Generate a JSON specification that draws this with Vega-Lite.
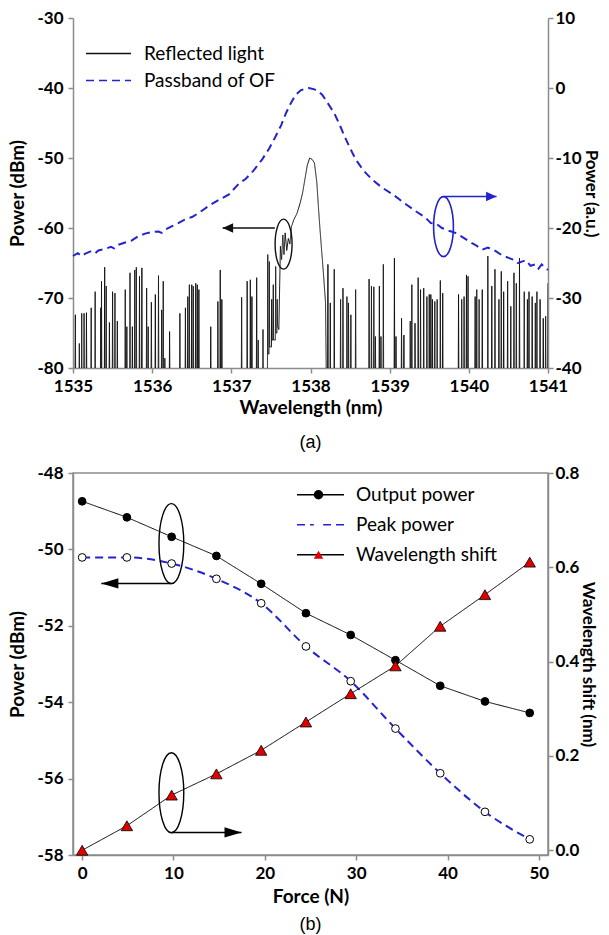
{
"$schema": "https://vega.github.io/schema/vega-lite/v6.json",
"padding": {"left": 8, "top": 9, "right": 6, "bottom": 2},
"spacing": 11,
"datasets": {
"spec": [
{"w":1535.026,"p":-82},{"w":1535.03,"p":-72.4},{"w":1535.034,"p":-82},
{"w":1535.076,"p":-82},{"w":1535.08,"p":-76.5},{"w":1535.084,"p":-82},
{"w":1535.106,"p":-82},{"w":1535.11,"p":-72.2},{"w":1535.114,"p":-82},
{"w":1535.136,"p":-82},{"w":1535.14,"p":-72.2},{"w":1535.144,"p":-82},
{"w":1535.166,"p":-82},{"w":1535.17,"p":-72.1},{"w":1535.174,"p":-82},
{"w":1535.226,"p":-82},{"w":1535.23,"p":-71.4},{"w":1535.234,"p":-82},
{"w":1535.276,"p":-82},{"w":1535.28,"p":-69.1},{"w":1535.284,"p":-82},
{"w":1535.346,"p":-82},{"w":1535.35,"p":-71.4},{"w":1535.354,"p":-82},
{"w":1535.356,"p":-82},{"w":1535.36,"p":-67.6},{"w":1535.364,"p":-82},
{"w":1535.396,"p":-82},{"w":1535.4,"p":-65.6},{"w":1535.404,"p":-82},
{"w":1535.416,"p":-82},{"w":1535.42,"p":-68.3},{"w":1535.424,"p":-82},
{"w":1535.456,"p":-82},{"w":1535.46,"p":-73.5},{"w":1535.464,"p":-82},
{"w":1535.496,"p":-82},{"w":1535.5,"p":-69.1},{"w":1535.504,"p":-82},
{"w":1535.526,"p":-82},{"w":1535.53,"p":-69.3},{"w":1535.534,"p":-82},
{"w":1535.556,"p":-82},{"w":1535.56,"p":-73.3},{"w":1535.564,"p":-82},
{"w":1535.656,"p":-82},{"w":1535.66,"p":-68.8},{"w":1535.664,"p":-82},
{"w":1535.676,"p":-82},{"w":1535.68,"p":-74.1},{"w":1535.684,"p":-82},
{"w":1535.716,"p":-82},{"w":1535.72,"p":-66.4},{"w":1535.724,"p":-82},
{"w":1535.746,"p":-82},{"w":1535.75,"p":-74.1},{"w":1535.754,"p":-82},
{"w":1535.776,"p":-82},{"w":1535.78,"p":-66},{"w":1535.784,"p":-82},
{"w":1535.796,"p":-82},{"w":1535.8,"p":-65.6},{"w":1535.804,"p":-82},
{"w":1535.836,"p":-82},{"w":1535.84,"p":-66.9},{"w":1535.844,"p":-82},
{"w":1535.866,"p":-82},{"w":1535.87,"p":-65.7},{"w":1535.874,"p":-82},
{"w":1535.926,"p":-82},{"w":1535.93,"p":-68.6},{"w":1535.934,"p":-82},
{"w":1535.946,"p":-82},{"w":1535.95,"p":-74.1},{"w":1535.954,"p":-82},
{"w":1535.986,"p":-82},{"w":1535.99,"p":-70.6},{"w":1535.994,"p":-82},
{"w":1536.036,"p":-82},{"w":1536.04,"p":-69.5},{"w":1536.044,"p":-82},
{"w":1536.076,"p":-82},{"w":1536.08,"p":-66.8},{"w":1536.084,"p":-82},
{"w":1536.116,"p":-82},{"w":1536.12,"p":-71.7},{"w":1536.124,"p":-82},
{"w":1536.136,"p":-82},{"w":1536.14,"p":-67.6},{"w":1536.144,"p":-82},
{"w":1536.156,"p":-82},{"w":1536.16,"p":-78.6},{"w":1536.164,"p":-82},
{"w":1536.216,"p":-82},{"w":1536.22,"p":-74.8},{"w":1536.224,"p":-82},
{"w":1536.346,"p":-82},{"w":1536.35,"p":-72.2},{"w":1536.354,"p":-82},
{"w":1536.416,"p":-82},{"w":1536.42,"p":-71.4},{"w":1536.424,"p":-82},
{"w":1536.446,"p":-82},{"w":1536.45,"p":-69.8},{"w":1536.454,"p":-82},
{"w":1536.466,"p":-82},{"w":1536.47,"p":-68.1},{"w":1536.474,"p":-82},
{"w":1536.496,"p":-82},{"w":1536.5,"p":-68.1},{"w":1536.504,"p":-82},
{"w":1536.516,"p":-82},{"w":1536.52,"p":-68.3},{"w":1536.524,"p":-82},
{"w":1536.546,"p":-82},{"w":1536.55,"p":-67.9},{"w":1536.554,"p":-82},
{"w":1536.566,"p":-82},{"w":1536.57,"p":-68.1},{"w":1536.574,"p":-82},
{"w":1536.586,"p":-82},{"w":1536.59,"p":-68.8},{"w":1536.594,"p":-82},
{"w":1536.736,"p":-82},{"w":1536.74,"p":-74.1},{"w":1536.744,"p":-82},
{"w":1536.826,"p":-82},{"w":1536.83,"p":-70.5},{"w":1536.834,"p":-82},
{"w":1536.856,"p":-82},{"w":1536.86,"p":-66},{"w":1536.864,"p":-82},
{"w":1536.876,"p":-82},{"w":1536.88,"p":-70.2},{"w":1536.884,"p":-82},
{"w":1537.126,"p":-82},{"w":1537.13,"p":-69.9},{"w":1537.134,"p":-82},
{"w":1537.196,"p":-82},{"w":1537.2,"p":-67.6},{"w":1537.204,"p":-82},
{"w":1537.236,"p":-82},{"w":1537.24,"p":-67.4},{"w":1537.244,"p":-82},
{"w":1537.256,"p":-82},{"w":1537.26,"p":-69.8},{"w":1537.264,"p":-82},
{"w":1537.316,"p":-82},{"w":1537.32,"p":-67.1},{"w":1537.324,"p":-82},
{"w":1537.336,"p":-82},{"w":1537.34,"p":-76},{"w":1537.344,"p":-82},
{"w":1537.396,"p":-82},{"w":1537.4,"p":-74.5},{"w":1537.404,"p":-82},
{"w":1537.456,"p":-82},{"w":1537.46,"p":-63.8},{"w":1537.464,"p":-78},
{"w":1537.476,"p":-78},{"w":1537.48,"p":-64.8},{"w":1537.484,"p":-77},
{"w":1537.506,"p":-77},{"w":1537.51,"p":-70.2},{"w":1537.514,"p":-76},
{"w":1537.526,"p":-76},{"w":1537.53,"p":-68.1},{"w":1537.534,"p":-76},
{"w":1537.556,"p":-76},{"w":1537.56,"p":-65.5},{"w":1537.564,"p":-75},
{"w":1537.576,"p":-75},{"w":1537.58,"p":-70.2},{"w":1537.584,"p":-74},
{"w":1537.6,"p":-74.5},{"w":1537.62,"p":-62.6},{"w":1537.635,"p":-64.5},{"w":1537.65,"p":-61},{"w":1537.665,"p":-63.8},{"w":1537.68,"p":-60.7},{"w":1537.7,"p":-63.2},{"w":1537.72,"p":-61.5},{"w":1537.74,"p":-62.3},{"w":1537.76,"p":-59.8},{"w":1537.79,"p":-58.8},{"w":1537.83,"p":-57.9},{"w":1537.87,"p":-56.4},{"w":1537.9,"p":-55},{"w":1537.93,"p":-53},{"w":1537.96,"p":-51},{"w":1537.99,"p":-50},{"w":1538.02,"p":-50.2},{"w":1538.05,"p":-50.7},{"w":1538.08,"p":-53.5},{"w":1538.1,"p":-57},{"w":1538.12,"p":-60.2},{"w":1538.16,"p":-66},{"w":1538.19,"p":-70.7},{"w":1538.2,"p":-82},
{"w":1538.216,"p":-82},{"w":1538.22,"p":-65.2},{"w":1538.224,"p":-82},
{"w":1538.246,"p":-82},{"w":1538.25,"p":-70.7},{"w":1538.254,"p":-82},
{"w":1538.296,"p":-82},{"w":1538.3,"p":-65.9},{"w":1538.304,"p":-82},
{"w":1538.376,"p":-82},{"w":1538.38,"p":-70.2},{"w":1538.384,"p":-82},
{"w":1538.406,"p":-82},{"w":1538.41,"p":-68.6},{"w":1538.414,"p":-82},
{"w":1538.456,"p":-82},{"w":1538.46,"p":-69.8},{"w":1538.464,"p":-82},
{"w":1538.476,"p":-82},{"w":1538.48,"p":-70.7},{"w":1538.484,"p":-82},
{"w":1538.506,"p":-82},{"w":1538.51,"p":-72.4},{"w":1538.514,"p":-82},
{"w":1538.566,"p":-82},{"w":1538.57,"p":-68.8},{"w":1538.574,"p":-82},
{"w":1538.736,"p":-82},{"w":1538.74,"p":-67.3},{"w":1538.744,"p":-82},
{"w":1538.766,"p":-82},{"w":1538.77,"p":-68.3},{"w":1538.774,"p":-82},
{"w":1538.796,"p":-82},{"w":1538.8,"p":-68.4},{"w":1538.804,"p":-82},
{"w":1538.816,"p":-82},{"w":1538.82,"p":-75.5},{"w":1538.824,"p":-82},
{"w":1538.866,"p":-82},{"w":1538.87,"p":-68.3},{"w":1538.874,"p":-82},
{"w":1538.886,"p":-82},{"w":1538.89,"p":-75.5},{"w":1538.894,"p":-82},
{"w":1538.916,"p":-82},{"w":1538.92,"p":-65.2},{"w":1538.924,"p":-82},
{"w":1539.056,"p":-82},{"w":1539.06,"p":-64.3},{"w":1539.064,"p":-82},
{"w":1539.076,"p":-82},{"w":1539.08,"p":-75.5},{"w":1539.084,"p":-82},
{"w":1539.146,"p":-82},{"w":1539.15,"p":-72.9},{"w":1539.154,"p":-82},
{"w":1539.176,"p":-82},{"w":1539.18,"p":-75.3},{"w":1539.184,"p":-82},
{"w":1539.256,"p":-82},{"w":1539.26,"p":-73.3},{"w":1539.264,"p":-82},
{"w":1539.276,"p":-82},{"w":1539.28,"p":-68.1},{"w":1539.284,"p":-82},
{"w":1539.316,"p":-82},{"w":1539.32,"p":-73.6},{"w":1539.324,"p":-82},
{"w":1539.356,"p":-82},{"w":1539.36,"p":-67.1},{"w":1539.364,"p":-82},
{"w":1539.386,"p":-82},{"w":1539.39,"p":-68.8},{"w":1539.394,"p":-82},
{"w":1539.426,"p":-82},{"w":1539.43,"p":-68.6},{"w":1539.434,"p":-82},
{"w":1539.466,"p":-82},{"w":1539.47,"p":-69.8},{"w":1539.474,"p":-82},
{"w":1539.496,"p":-82},{"w":1539.5,"p":-69.5},{"w":1539.504,"p":-82},
{"w":1539.516,"p":-82},{"w":1539.52,"p":-69.5},{"w":1539.524,"p":-82},
{"w":1539.536,"p":-82},{"w":1539.54,"p":-70.2},{"w":1539.544,"p":-82},
{"w":1539.566,"p":-82},{"w":1539.57,"p":-70.5},{"w":1539.574,"p":-82},
{"w":1539.596,"p":-82},{"w":1539.6,"p":-70.2},{"w":1539.604,"p":-82},
{"w":1539.636,"p":-82},{"w":1539.64,"p":-67.5},{"w":1539.644,"p":-82},
{"w":1539.666,"p":-82},{"w":1539.67,"p":-69.3},{"w":1539.674,"p":-82},
{"w":1539.866,"p":-82},{"w":1539.87,"p":-69.5},{"w":1539.874,"p":-82},
{"w":1539.906,"p":-82},{"w":1539.91,"p":-70.2},{"w":1539.914,"p":-82},
{"w":1539.936,"p":-82},{"w":1539.94,"p":-69.8},{"w":1539.944,"p":-82},
{"w":1539.966,"p":-82},{"w":1539.97,"p":-66.7},{"w":1539.974,"p":-82},
{"w":1539.986,"p":-82},{"w":1539.99,"p":-66.9},{"w":1539.994,"p":-82},
{"w":1540.076,"p":-82},{"w":1540.08,"p":-69.8},{"w":1540.084,"p":-82},
{"w":1540.096,"p":-82},{"w":1540.1,"p":-68.8},{"w":1540.104,"p":-82},
{"w":1540.126,"p":-82},{"w":1540.13,"p":-70.2},{"w":1540.134,"p":-82},
{"w":1540.166,"p":-82},{"w":1540.17,"p":-68.8},{"w":1540.174,"p":-82},
{"w":1540.236,"p":-82},{"w":1540.24,"p":-64},{"w":1540.244,"p":-82},
{"w":1540.286,"p":-82},{"w":1540.29,"p":-68.3},{"w":1540.294,"p":-82},
{"w":1540.326,"p":-82},{"w":1540.33,"p":-65.9},{"w":1540.334,"p":-82},
{"w":1540.376,"p":-82},{"w":1540.38,"p":-70.2},{"w":1540.384,"p":-82},
{"w":1540.406,"p":-82},{"w":1540.41,"p":-66.2},{"w":1540.414,"p":-82},
{"w":1540.436,"p":-82},{"w":1540.44,"p":-69.1},{"w":1540.444,"p":-82},
{"w":1540.486,"p":-82},{"w":1540.49,"p":-67.6},{"w":1540.494,"p":-82},
{"w":1540.526,"p":-82},{"w":1540.53,"p":-71.2},{"w":1540.534,"p":-82},
{"w":1540.566,"p":-82},{"w":1540.57,"p":-66.4},{"w":1540.574,"p":-82},
{"w":1540.596,"p":-82},{"w":1540.6,"p":-67.9},{"w":1540.604,"p":-82},
{"w":1540.636,"p":-82},{"w":1540.64,"p":-64.3},{"w":1540.644,"p":-82},
{"w":1540.696,"p":-82},{"w":1540.7,"p":-69.1},{"w":1540.704,"p":-82},
{"w":1540.736,"p":-82},{"w":1540.74,"p":-70.2},{"w":1540.744,"p":-82},
{"w":1540.756,"p":-82},{"w":1540.76,"p":-69.1},{"w":1540.764,"p":-82},
{"w":1540.796,"p":-82},{"w":1540.8,"p":-69.8},{"w":1540.804,"p":-82},
{"w":1540.836,"p":-82},{"w":1540.84,"p":-70.7},{"w":1540.844,"p":-82},
{"w":1540.856,"p":-82},{"w":1540.86,"p":-69.1},{"w":1540.864,"p":-82},
{"w":1540.896,"p":-82},{"w":1540.9,"p":-70.2},{"w":1540.904,"p":-82},
{"w":1540.936,"p":-82},{"w":1540.94,"p":-72.9},{"w":1540.944,"p":-82},
{"w":1540.966,"p":-82},{"w":1540.97,"p":-72.6},{"w":1540.974,"p":-82},
{"w":1540.996,"p":-82},{"w":1541,"p":-67.9}
],
"pass": [
{"w":1535,"r":-24},{"w":1535.06,"r":-23.6},{"w":1535.11,"r":-24},{"w":1535.15,"r":-23.7},{"w":1535.23,"r":-23.3},{"w":1535.28,"r":-23.6},{"w":1535.32,"r":-23.2},{"w":1535.4,"r":-23},{"w":1535.48,"r":-22.7},{"w":1535.52,"r":-22.9},{"w":1535.57,"r":-22.4},{"w":1535.65,"r":-22.1},{"w":1535.74,"r":-21.8},{"w":1535.82,"r":-21.2},{"w":1535.91,"r":-20.8},{"w":1535.99,"r":-20.6},{"w":1536.08,"r":-20.5},{"w":1536.12,"r":-20.7},{"w":1536.17,"r":-20.2},{"w":1536.24,"r":-19.8},{"w":1536.33,"r":-19.3},{"w":1536.41,"r":-18.8},{"w":1536.51,"r":-18.4},{"w":1536.62,"r":-17.6},{"w":1536.72,"r":-16.8},{"w":1536.84,"r":-16},{"w":1536.97,"r":-15.2},{"w":1537.1,"r":-13.6},{"w":1537.18,"r":-13},{"w":1537.28,"r":-11.8},{"w":1537.39,"r":-10.2},{"w":1537.48,"r":-8.6},{"w":1537.56,"r":-6.9},{"w":1537.63,"r":-5.3},{"w":1537.69,"r":-3.6},{"w":1537.75,"r":-2.2},{"w":1537.81,"r":-1},{"w":1537.88,"r":-0.3},{"w":1537.98,"r":0},{"w":1538.05,"r":-0.2},{"w":1538.1,"r":-0.5},{"w":1538.15,"r":-1},{"w":1538.22,"r":-2.2},{"w":1538.3,"r":-3.6},{"w":1538.37,"r":-5.3},{"w":1538.43,"r":-6.9},{"w":1538.5,"r":-8.6},{"w":1538.57,"r":-10.2},{"w":1538.67,"r":-11.8},{"w":1538.78,"r":-13.1},{"w":1538.9,"r":-14.2},{"w":1539.04,"r":-15.2},{"w":1539.18,"r":-16.4},{"w":1539.33,"r":-17.6},{"w":1539.45,"r":-18.5},{"w":1539.52,"r":-19.3},{"w":1539.59,"r":-19.4},{"w":1539.66,"r":-20},{"w":1539.75,"r":-20.4},{"w":1539.83,"r":-20.7},{"w":1539.92,"r":-21.3},{"w":1540,"r":-21.9},{"w":1540.08,"r":-22.4},{"w":1540.17,"r":-23.1},{"w":1540.24,"r":-22.8},{"w":1540.34,"r":-23.3},{"w":1540.42,"r":-23.9},{"w":1540.51,"r":-24.3},{"w":1540.58,"r":-24.6},{"w":1540.62,"r":-25},{"w":1540.67,"r":-24.8},{"w":1540.72,"r":-24.6},{"w":1540.78,"r":-25.4},{"w":1540.84,"r":-25.2},{"w":1540.88,"r":-25.8},{"w":1540.92,"r":-25.2},{"w":1540.97,"r":-25.7},{"w":1541,"r":-26}
],
"power": [
{"force":0,"series":"Output power","v":-48.74},{"force":4.9,"series":"Output power","v":-49.16},{"force":9.8,"series":"Output power","v":-49.67},{"force":14.7,"series":"Output power","v":-50.17},{"force":19.6,"series":"Output power","v":-50.9},{"force":24.5,"series":"Output power","v":-51.67},{"force":29.4,"series":"Output power","v":-52.24},{"force":34.3,"series":"Output power","v":-52.9},{"force":39.2,"series":"Output power","v":-53.57},{"force":44.1,"series":"Output power","v":-53.98},{"force":49,"series":"Output power","v":-54.28},
{"force":0,"series":"Peak power","v":-50.21},{"force":4.9,"series":"Peak power","v":-50.21},{"force":9.8,"series":"Peak power","v":-50.37},{"force":14.7,"series":"Peak power","v":-50.77},{"force":19.6,"series":"Peak power","v":-51.41},{"force":24.5,"series":"Peak power","v":-52.54},{"force":29.4,"series":"Peak power","v":-53.45},{"force":34.3,"series":"Peak power","v":-54.69},{"force":39.2,"series":"Peak power","v":-55.86},{"force":44.1,"series":"Peak power","v":-56.87},{"force":49,"series":"Peak power","v":-57.59}
],
"shift": [
{"force":0,"series":"Wavelength shift","s":0},{"force":4.9,"series":"Wavelength shift","s":0.052},{"force":9.8,"series":"Wavelength shift","s":0.117},{"force":14.7,"series":"Wavelength shift","s":0.162},{"force":19.6,"series":"Wavelength shift","s":0.212},{"force":24.5,"series":"Wavelength shift","s":0.272},{"force":29.4,"series":"Wavelength shift","s":0.332},{"force":34.3,"series":"Wavelength shift","s":0.391},{"force":39.2,"series":"Wavelength shift","s":0.475},{"force":44.1,"series":"Wavelength shift","s":0.542},{"force":49,"series":"Wavelength shift","s":0.611}
]
},
"vconcat": [
{
"width": 475, "height": 350,
"view": {"stroke": null},
"title": {"text": "(a)", "orient": "bottom", "font": "Liberation Sans", "fontSize": 18, "fontWeight": "normal", "color": "#000", "offset": 17},
"layer": [
{"layer": [
{
"data": {"name": "spec"},
"mark": {"type": "line", "strokeWidth": 1, "clip": true},
"encoding": {
"x": {"field": "w", "type": "quantitative", "scale": {"domain": [1535, 1541], "nice": false}, "axis": {"title": "Wavelength (nm)", "values": [1535,1536,1537,1538,1539,1540,1541], "format": "d", "titlePadding": 4}},
"y": {"field": "p", "type": "quantitative", "scale": {"domain": [-80, -30], "nice": false}, "axis": {"orient": "left", "title": "Power (dBm)", "values": [-80,-70,-60,-50,-40,-30], "titlePadding": 9}},
"color": {"datum": "Reflected light", "type": "nominal", "scale": {"domain": ["Reflected light", "Passband of OF"], "range": ["#111111", "#2323cf"]}, "legend": {"title": null, "orient": "none", "legendX": 12, "legendY": 22, "symbolType": "stroke", "symbolSize": 2025, "symbolStrokeWidth": 1.5, "clipHeight": 27, "rowPadding": 0, "labelOffset": 12, "labelFontSize": 19}},
"strokeDash": {"datum": "Reflected light", "type": "nominal", "scale": {"domain": ["Reflected light", "Passband of OF"], "range": [[1, 0], [8, 5]]}, "legend": {"title": null, "orient": "none", "legendX": 12, "legendY": 22, "symbolType": "stroke", "symbolSize": 2025, "symbolStrokeWidth": 1.5, "clipHeight": 27, "rowPadding": 0, "labelOffset": 12, "labelFontSize": 19}}
}
},
{
"data": {"values": [{"w": 1537.55, "w2": 1536.89, "p": -60}]},
"mark": {"type": "rule", "color": "#111111", "strokeWidth": 1.5},
"encoding": {"x": {"field": "w", "type": "quantitative"}, "x2": {"field": "w2"}, "y": {"field": "p", "type": "quantitative"}}
},
{
"data": {"values": [{"w": 1536.89, "p": -60}]},
"mark": {"type": "point", "shape": "M0,0L2,-0.9L2,0.9Z", "size": 110, "filled": true, "color": "#111111", "opacity": 1},
"encoding": {"x": {"field": "w", "type": "quantitative"}, "y": {"field": "p", "type": "quantitative"}}
},
{
"data": {"values": [{"w": 1537.66, "p": -62.3}]},
"mark": {"type": "point", "shape": "M0,-1A0.34,1 0 1,1 0,1A0.34,1 0 1,1 0,-1", "size": 2500, "filled": false, "color": "#111111", "strokeWidth": 1.4, "opacity": 1},
"encoding": {"x": {"field": "w", "type": "quantitative"}, "y": {"field": "p", "type": "quantitative"}}
},
{
"data": {"values": [{"w": 1539.68, "w2": 1540.35, "p": -55.5}]},
"mark": {"type": "rule", "color": "#2323cf", "strokeWidth": 1.5},
"encoding": {"x": {"field": "w", "type": "quantitative"}, "x2": {"field": "w2"}, "y": {"field": "p", "type": "quantitative"}}
},
{
"data": {"values": [{"w": 1540.35, "p": -55.5}]},
"mark": {"type": "point", "shape": "M0,0L-2,-0.9L-2,0.9Z", "size": 110, "filled": true, "color": "#2323cf", "opacity": 1},
"encoding": {"x": {"field": "w", "type": "quantitative"}, "y": {"field": "p", "type": "quantitative"}}
},
{
"data": {"values": [{"w": 1539.68, "p": -59.8}]},
"mark": {"type": "point", "shape": "M0,-1A0.33,1 0 1,1 0,1A0.33,1 0 1,1 0,-1", "size": 3600, "filled": false, "color": "#2323cf", "strokeWidth": 1.6, "opacity": 1},
"encoding": {"x": {"field": "w", "type": "quantitative"}, "y": {"field": "p", "type": "quantitative"}}
}
]},
{
"data": {"name": "pass"},
"mark": {"type": "line", "strokeWidth": 2},
"encoding": {
"x": {"field": "w", "type": "quantitative", "scale": {"domain": [1535, 1541], "nice": false}},
"y": {"field": "r", "type": "quantitative", "scale": {"domain": [-40, 10], "nice": false}, "axis": {"orient": "right", "title": "Power (a.u.)", "values": [-40,-30,-20,-10,0,10], "labelPadding": 2, "titlePadding": 0, "titleFontSize": 17}},
"color": {"datum": "Passband of OF", "type": "nominal", "scale": {"domain": ["Reflected light", "Passband of OF"], "range": ["#111111", "#2323cf"]}},
"strokeDash": {"datum": "Passband of OF", "type": "nominal", "scale": {"domain": ["Reflected light", "Passband of OF"], "range": [[1, 0], [8, 5]]}}
}
}
],
"resolve": {"scale": {"y": "independent"}}
},
{
"width": 475, "height": 382,
"view": {"stroke": "#8c8c8c", "strokeWidth": 1.5},
"title": {"text": "(b)", "orient": "bottom", "font": "Liberation Sans", "fontSize": 18, "fontWeight": "normal", "color": "#000", "offset": 10},
"layer": [
{"layer": [
{
"data": {"name": "power"},
"transform": [{"filter": "datum.series == 'Output power'"}],
"mark": {"type": "line", "strokeWidth": 1},
"encoding": {
"x": {"field": "force", "type": "quantitative", "scale": {"domain": [-1, 51], "nice": false}, "axis": {"title": "Force (N)", "values": [0,10,20,30,40,50], "titlePadding": 6}},
"y": {"field": "v", "type": "quantitative", "scale": {"domain": [-58, -48], "nice": false, "zero": false}, "axis": {"orient": "left", "title": "Power (dBm)", "values": [-58,-56,-54,-52,-50,-48], "titlePadding": 9}},
"color": {"field": "series", "type": "nominal", "scale": {"domain": ["Output power", "Peak power", "Wavelength shift"], "range": ["#000000", "#2323cf", "#000000"]}, "legend": {"title": null, "orient": "none", "legendX": 223, "legendY": 7, "symbolType": "stroke", "symbolSize": 2209, "symbolStrokeWidth": 1.3, "clipHeight": 29.5, "rowPadding": 0, "labelOffset": 11, "labelFontSize": 19}},
"strokeDash": {"field": "series", "type": "nominal", "scale": {"domain": ["Output power", "Peak power", "Wavelength shift"], "range": [[1, 0], [8, 5], [1, 0]]}, "legend": {"title": null, "orient": "none", "legendX": 223, "legendY": 7, "symbolType": "stroke", "symbolSize": 2209, "symbolStrokeWidth": 1.3, "clipHeight": 29.5, "rowPadding": 0, "labelOffset": 11, "labelFontSize": 19}}
}
},
{
"data": {"name": "power"},
"transform": [{"filter": "datum.series == 'Peak power'"}],
"mark": {"type": "line", "strokeWidth": 2, "interpolate": "monotone"},
"encoding": {
"x": {"field": "force", "type": "quantitative"},
"y": {"field": "v", "type": "quantitative"},
"color": {"field": "series", "type": "nominal", "scale": {"domain": ["Output power", "Peak power", "Wavelength shift"], "range": ["#000000", "#2323cf", "#000000"]}},
"strokeDash": {"field": "series", "type": "nominal", "scale": {"domain": ["Output power", "Peak power", "Wavelength shift"], "range": [[1, 0], [8, 5], [1, 0]]}}
}
},
{
"data": {"name": "power"},
"mark": {"type": "point", "size": 60, "filled": true, "stroke": "#000000", "strokeWidth": 1, "opacity": 1},
"encoding": {
"x": {"field": "force", "type": "quantitative"},
"y": {"field": "v", "type": "quantitative"},
"fill": {"field": "series", "type": "nominal", "scale": {"range": ["#000000", "#ffffff", "#e00000"]}, "legend": {"title": null, "orient": "none", "legendX": 236, "legendY": 7, "symbolSize": 90, "symbolStrokeColor": "#000000", "symbolStrokeWidth": 1, "clipHeight": 29.5, "rowPadding": 0, "labelExpr": "''", "labelFontSize": 19}},
"shape": {"field": "series", "type": "nominal", "scale": {"range": ["circle", "circle", "triangle-up"]}, "legend": {"title": null, "orient": "none", "legendX": 236, "legendY": 7, "symbolSize": 90, "symbolStrokeColor": "#000000", "symbolStrokeWidth": 1, "clipHeight": 29.5, "rowPadding": 0, "labelExpr": "''", "labelFontSize": 19}}
}
},
{
"data": {"values": [{"force": 9.8, "force2": 2.1, "v": -50.89}, {"force": 9.8, "force2": 17.45, "v": -57.41}]},
"mark": {"type": "rule", "color": "#000000", "strokeWidth": 1.5},
"encoding": {"x": {"field": "force", "type": "quantitative"}, "x2": {"field": "force2"}, "y": {"field": "v", "type": "quantitative"}}
},
{
"data": {"values": [{"force": 2.1, "v": -50.89}]},
"mark": {"type": "point", "shape": "M0,0L2,-0.6L2,0.6Z", "size": 290, "filled": true, "color": "#000000", "opacity": 1},
"encoding": {"x": {"field": "force", "type": "quantitative"}, "y": {"field": "v", "type": "quantitative"}}
},
{
"data": {"values": [{"force": 17.45, "v": -57.41}]},
"mark": {"type": "point", "shape": "M0,0L-2,-0.6L-2,0.6Z", "size": 290, "filled": true, "color": "#000000", "opacity": 1},
"encoding": {"x": {"field": "force", "type": "quantitative"}, "y": {"field": "v", "type": "quantitative"}}
},
{
"data": {"values": [{"force": 9.77, "v": -49.85}, {"force": 9.77, "v": -56.37}]},
"mark": {"type": "point", "shape": "M0,-1A0.31,1 0 1,1 0,1A0.31,1 0 1,1 0,-1", "size": 6400, "filled": false, "color": "#000000", "strokeWidth": 1.4, "opacity": 1},
"encoding": {"x": {"field": "force", "type": "quantitative"}, "y": {"field": "v", "type": "quantitative"}}
}
]},
{"layer": [
{
"data": {"name": "shift"},
"mark": {"type": "line", "strokeWidth": 1},
"encoding": {
"x": {"field": "force", "type": "quantitative"},
"y": {"field": "s", "type": "quantitative", "scale": {"domain": [-0.01, 0.8], "nice": false, "zero": false}, "axis": {"orient": "right", "title": "Wavelength shift (nm)", "values": [0, 0.2, 0.4, 0.6, 0.8], "format": ".1f", "labelPadding": 2, "titlePadding": 0, "titleFontSize": 17}},
"color": {"field": "series", "type": "nominal", "scale": {"domain": ["Output power", "Peak power", "Wavelength shift"], "range": ["#000000", "#2323cf", "#000000"]}},
"strokeDash": {"field": "series", "type": "nominal", "scale": {"domain": ["Output power", "Peak power", "Wavelength shift"], "range": [[1, 0], [8, 5], [1, 0]]}}
}
},
{
"data": {"name": "shift"},
"mark": {"type": "point", "size": 130, "filled": true, "stroke": "#000000", "strokeWidth": 0.8, "opacity": 1},
"encoding": {
"x": {"field": "force", "type": "quantitative"},
"y": {"field": "s", "type": "quantitative"},
"fill": {"field": "series", "type": "nominal"},
"shape": {"field": "series", "type": "nominal"}
}
}
]}
],
"resolve": {"scale": {"y": "independent"}}
}
],
"resolve": {"scale": {"x": "independent", "y": "independent", "color": "independent", "strokeDash": "independent", "fill": "independent", "shape": "independent"}, "legend": {"color": "independent", "strokeDash": "independent", "fill": "independent", "shape": "independent"}},
"config": {
"font": "Lato",
"locale": {"number": {"decimal": ".", "thousands": "", "grouping": [3], "currency": ["$", ""], "minus": "-"}},
"axis": {"domainColor": "#8c8c8c", "domainWidth": 1.5, "tickColor": "#8c8c8c", "tickWidth": 1.5, "tickSize": 5, "labelPadding": 5, "labelFont": "Lato", "labelFontSize": 17, "labelFontWeight": "bold", "labelColor": "#000000", "labelFlush": false, "labelOverlap": false, "titleFont": "Lato", "titleFontSize": 19, "titleFontWeight": "bold", "titleColor": "#000000", "grid": false},
"legend": {"labelFont": "Lato", "labelFontSize": 19, "labelColor": "#000000", "padding": 0}
}
}
